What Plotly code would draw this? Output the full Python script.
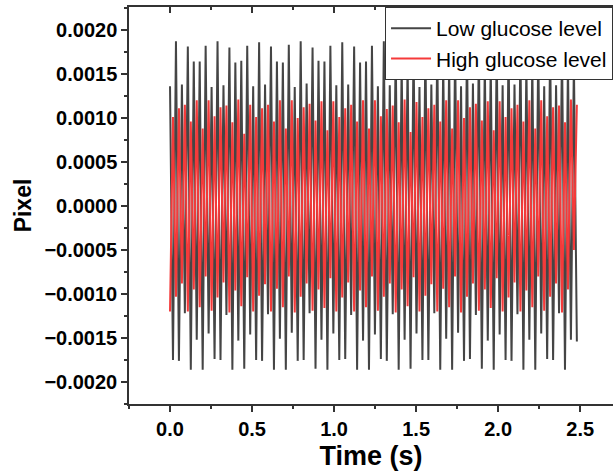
import plotly.graph_objects as go

# Values, in units of 1e-3 pixel (converted below)
low_peaks = [
    1.36, 1.87, 1.38, 1.81, 1.64, 1.64, 1.82,
    1.35, 1.87, 1.37, 1.80, 1.63, 1.65, 1.82,
    1.36, 1.86, 1.38, 1.81, 1.64, 1.63, 1.83,
    1.35, 1.87, 1.39, 1.80, 1.65, 1.64, 1.82,
    1.37, 1.86, 1.38, 1.81, 1.63, 1.64, 1.82,
    1.36, 1.87, 1.37, 1.80, 1.64, 1.65, 1.83,
    1.35, 1.86, 1.38, 1.81, 1.64, 1.63, 1.82,
    1.36, 1.87, 1.39, 1.80, 1.65, 1.64, 1.82,
    1.37, 1.86, 1.38, 1.81, 1.63, 1.64, 1.82,
    1.36, 1.87, 1.37, 1.80, 1.64, 1.65,
]
low_troughs = [
    -1.75, -1.76, -1.22, -1.86, -1.52, -1.86, -1.45,
    -1.74, -1.75, -1.24, -1.86, -1.53, -1.85, -1.46,
    -1.75, -1.76, -1.23, -1.86, -1.51, -1.86, -1.44,
    -1.76, -1.75, -1.22, -1.85, -1.52, -1.86, -1.45,
    -1.75, -1.74, -1.24, -1.86, -1.53, -1.86, -1.46,
    -1.74, -1.76, -1.23, -1.86, -1.52, -1.85, -1.45,
    -1.75, -1.75, -1.22, -1.86, -1.51, -1.86, -1.44,
    -1.76, -1.74, -1.24, -1.85, -1.53, -1.86, -1.46,
    -1.75, -1.76, -1.23, -1.86, -1.52, -1.86, -1.45,
    -1.74, -1.75, -1.22, -1.86, -1.52, -1.54,
]
high_troughs = [
    -1.20, -1.03, -0.88, -1.20, -0.95, -1.15, -0.80,
    -1.19, -1.04, -0.87, -1.21, -0.96, -1.14, -0.81,
    -1.20, -1.02, -0.89, -1.20, -0.94, -1.15, -0.80,
    -1.21, -1.03, -0.88, -1.19, -0.95, -1.16, -0.82,
    -1.20, -1.04, -0.87, -1.20, -0.96, -1.15, -0.80,
    -1.19, -1.03, -0.88, -1.21, -0.95, -1.14, -0.81,
    -1.20, -1.02, -0.89, -1.20, -0.94, -1.15, -0.80,
    -1.21, -1.03, -0.88, -1.19, -0.95, -1.16, -0.82,
    -1.20, -1.04, -0.87, -1.20, -0.96, -1.15, -0.80,
    -1.19, -1.03, -0.88, -1.21, -0.95, -0.50,
]
high_peaks = [
    1.01, 1.11, 1.15, 0.96, 1.20, 0.88, 1.20,
    1.02, 1.12, 1.14, 0.95, 1.21, 0.82, 1.15,
    1.01, 1.11, 1.15, 0.96, 1.20, 0.88, 1.20,
    1.00, 1.12, 1.16, 0.97, 1.19, 0.86, 1.19,
    1.01, 1.11, 1.15, 0.96, 1.20, 0.88, 1.20,
    1.02, 1.10, 1.14, 0.95, 1.21, 0.84, 1.18,
    1.01, 1.11, 1.15, 0.96, 1.20, 0.88, 1.20,
    1.00, 1.12, 1.16, 0.97, 1.19, 0.86, 1.19,
    1.01, 1.11, 1.15, 0.96, 1.20, 0.88, 1.20,
    1.02, 1.12, 1.14, 0.95, 1.21, 1.15,
]
sample_step_s = 0.0181

x_ticks = [0.0, 0.5, 1.0, 1.5, 2.0, 2.5]
x_tick_labels = ["0.0", "0.5", "1.0", "1.5", "2.0", "2.5"]
y_ticks = [-0.0020, -0.0015, -0.0010, -0.0005, 0.0, 0.0005, 0.0010, 0.0015, 0.0020]
y_tick_labels = ["\u22120.0020", "\u22120.0015", "\u22120.0010", "\u22120.0005",
                 "0.0000", "0.0005", "0.0010", "0.0015", "0.0020"]

low_series = []
for p, t in zip(low_peaks, low_troughs):
    low_series += [p * 1e-3, t * 1e-3]
high_series = []
for t, p in zip(high_troughs, high_peaks):
    high_series += [t * 1e-3, p * 1e-3]
time_low = [i * sample_step_s for i in range(len(low_series))]
time_high = [i * sample_step_s for i in range(len(high_series))]

fig = go.Figure()
fig.add_trace(go.Scatter(x=time_low, y=low_series, mode="lines",
                         name="Low glucose level",
                         line=dict(color="#454545", width=2)))
fig.add_trace(go.Scatter(x=time_high, y=high_series, mode="lines",
                         name="High glucose level",
                         line=dict(color="#f53a3a", width=2)))

axis_color = "#333333"
fig.update_layout(
    width=613, height=476,
    margin=dict(l=129, r=0, t=7, b=72, autoexpand=False),
    plot_bgcolor="white", paper_bgcolor="white",
    font=dict(family="Liberation Sans, Arial, sans-serif", color="black"),
    xaxis=dict(
        range=[-0.25, 2.7], tickvals=x_ticks, ticktext=x_tick_labels,
        ticks="outside", ticklen=6, tickwidth=1.5, tickcolor=axis_color,
        showline=True, linecolor=axis_color, linewidth=1.5, showgrid=False, zeroline=False,
        tickfont=dict(size=20, family="Liberation Sans, Arial", weight="bold"),
        minor=dict(dtick=0.25, tick0=0, ticks="outside", ticklen=3, tickcolor=axis_color, tickwidth=1.5),
        title=dict(text="Time (s)", font=dict(size=27, weight="bold"), standoff=7),
        automargin=False,
    ),
    xaxis2=dict(
        range=[-0.25, 2.7], overlaying="x", side="top", anchor="y",
        tickvals=x_ticks, showticklabels=False,
        ticks="inside", ticklen=6, tickwidth=1.5, tickcolor=axis_color,
        showline=True, linecolor=axis_color, linewidth=1.5, showgrid=False, zeroline=False,
        minor=dict(dtick=0.25, tick0=0, ticks="inside", ticklen=3, tickcolor=axis_color, tickwidth=1.5),
        automargin=False,
    ),
    yaxis=dict(
        range=[-0.00225, 0.00226], tickvals=y_ticks, ticktext=y_tick_labels,
        ticks="outside", ticklen=6, tickwidth=1.5, tickcolor=axis_color,
        showline=True, linecolor=axis_color, linewidth=1.5, showgrid=False, zeroline=False,
        tickfont=dict(size=20, family="Liberation Sans, Arial", weight="bold"),
        minor=dict(dtick=0.00025, tick0=0, ticks="outside", ticklen=3, tickcolor=axis_color, tickwidth=1.5),
        title=dict(text="Pixel", font=dict(size=23, weight="bold"), standoff=6),
        automargin=False,
    ),
    legend=dict(
        x=0.529, y=1, xanchor="left", yanchor="top",
        bgcolor="white", bordercolor="#333333", borderwidth=1,
        font=dict(size=21, family="Liberation Sans, Arial"),
        itemwidth=40, tracegroupgap=0,
    ),
    showlegend=True,
)
# empty trace to activate the mirrored top axis
fig.add_trace(go.Scatter(x=[None], y=[None], xaxis="x2", showlegend=False, hoverinfo="skip"))

fig.write_html("out.html")
